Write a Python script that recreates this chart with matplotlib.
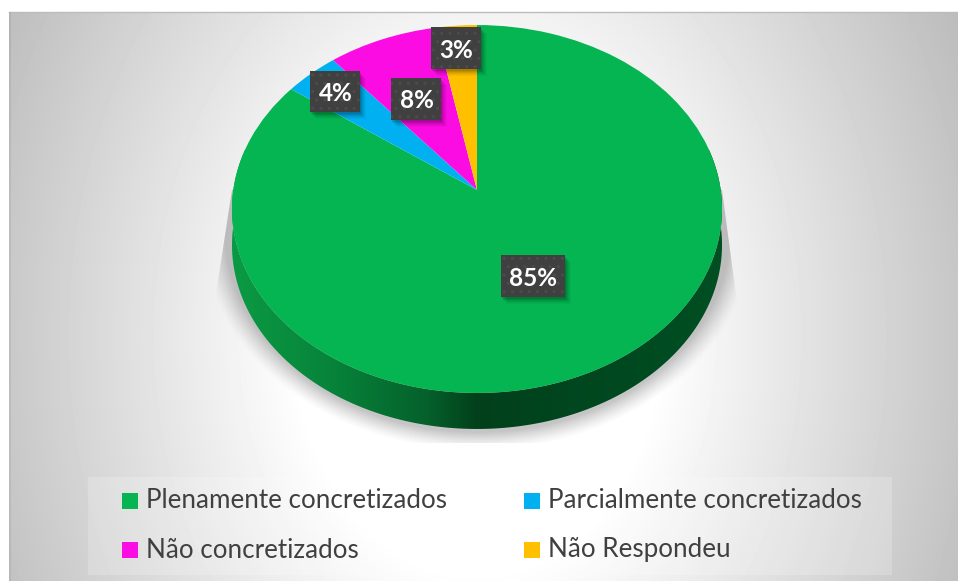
import numpy as np
import matplotlib
matplotlib.use('Agg')
import matplotlib.pyplot as plt
import matplotlib.transforms as mtransforms
from matplotlib.patches import Rectangle, Polygon
from matplotlib.colors import LinearSegmentedColormap

# Data
categories = ['Plenamente concretizados', 'Parcialmente concretizados', 'Não concretizados', 'Não Respondeu']
values = [85, 4, 8, 3]
labels = ['85%', '4%', '8%', '3%']
colors = ['#04b551', '#00b0f0', '#fb0ce3', '#ffc000']

W, H = 958, 581
CX, CY = 477, 190      # apex of the pie in pixels
A, B, K = 182.0, 243.7, 0.1033   # perspective of the top face
DEPTH = 36


class Perspective(mtransforms.Transform):
    """Unit circle to tilted disc, far side squeezed"""
    input_dims = 2
    output_dims = 2
    is_separable = False
    has_inverse = False

    def __init__(self, dy=0.0):
        super().__init__()
        self.dy = dy

    def transform_non_affine(self, xy):
        xy = np.asarray(xy, dtype=float)
        w = 1 + K * xy[:, 1]
        return np.column_stack([CX + B * xy[:, 0] / w, CY + self.dy - A * xy[:, 1] / w])


fig = plt.figure(figsize=(W / 100, H / 100), dpi=100, facecolor='white')
ax = fig.add_axes([0, 0, 1, 1])

# Pie first, it resets the limits of the axes
wedges, _ = ax.pie(values, colors=colors, startangle=90, counterclock=False,
                   wedgeprops={'linewidth': 0})
persp = Perspective()
for w in wedges:
    w.set_transform(persp + ax.transData)
    w.set_zorder(5)
ax.set_aspect('auto')
ax.set_xlim(0, W)
ax.set_ylim(H, 0)
ax.axis('off')

# Background gradient of the chart area
L, R, T, Bt = 9, 958, 12, 581
xx, yy = np.meshgrid(np.arange(L, R), np.arange(T, Bt))
r = np.sqrt(((xx - 477) / 480.0) ** 2 + ((yy - 335) / 632.0) ** 2)
grey = np.clip(255 - 90 * np.clip(r - 0.375, 0, None), 0, 255) / 255.0
ax.imshow(grey, extent=(L, R, Bt, T), cmap='gray', vmin=0, vmax=1, aspect='auto', zorder=0,
          interpolation='bilinear')
ax.set_xlim(0, W)
ax.set_ylim(H, 0)
ax.plot([L, R], [T, T], color='#bcbcbc', lw=1, zorder=1)
ax.add_patch(Rectangle((L, T), 2, Bt - T, color='black', alpha=0.06, lw=0, zorder=1))

# Shadow below the pie, cut off by a trapezoid like in the original
sx, sy = np.meshgrid(np.arange(200, 760), np.arange(150, 460))
e = np.sqrt(((sx - 477) / 252.0) ** 2 + ((sy - 232) / 200.0) ** 2)
alpha = np.clip((1.09 - e) / 0.09, 0, 1) ** 1.3 * 0.30
rgba = np.zeros(sx.shape + (4,))
rgba[..., :3] = 0.25
rgba[..., 3] = alpha
shadow = ax.imshow(rgba, extent=(200, 760, 460, 150), aspect='auto', zorder=2, interpolation='bilinear')
clip = Polygon([(232, 190), (215, 300), (215, 443), (738, 443), (738, 310), (722, 190)],
               transform=ax.transData, fill=False, lw=0)
ax.add_patch(clip)
shadow.set_clip_path(clip)
ax.set_xlim(0, W)
ax.set_ylim(H, 0)

# Side wall of the disc: horizontal gradient clipped to the rim
t2 = np.linspace(-np.pi - 0.35, 0.35, 240)
unit2 = np.column_stack([np.cos(t2), np.sin(t2)])
lower = Perspective(DEPTH).transform_non_affine(unit2)
upper = Perspective(0).transform_non_affine(unit2)[::-1]
wall_cmap = LinearSegmentedColormap.from_list('wall', [(0, '#0b9a44'), (0.2, '#07843a'), (0.4, '#05602b'),
                                                       (0.5, '#02401b'), (0.62, '#01441d'), (1, '#004f23')])
wall = ax.imshow(np.linspace(0, 1, 512)[None, :], extent=(232, 722, 460, 150), cmap=wall_cmap,
                 aspect='auto', zorder=3)
rim = Polygon(np.vstack([lower, upper]), transform=ax.transData, fill=False, lw=0)
ax.add_patch(rim)
wall.set_clip_path(rim)
ax.set_xlim(0, W)
ax.set_ylim(H, 0)

# Data labels
boxes = [(501, 255, 64, 42), (310, 71, 50, 41), (391, 78, 50, 42), (431, 27, 50, 42)]
for (x0, y0, bw, bh), lab in zip(boxes, labels):
    for off, al in [(7, 0.03), (6, 0.04), (5, 0.05), (4, 0.06), (3, 0.08), (2, 0.10)]:
        ax.add_patch(Rectangle((x0 + off - 1, y0 + off), bw, bh, color='black', alpha=al, lw=0, zorder=6))
    ax.add_patch(Rectangle((x0, y0), bw, bh, facecolor='#404040', edgecolor='#4c4c4c', hatch='..',
                           lw=0, zorder=7))
    ax.text(x0 + bw / 2 + 0.5, y0 + bh / 2 + 2, lab, color='white', fontsize=17.5, fontweight='bold',
            family='Lato', ha='center', va='center', zorder=8)

# Legend
ax.add_patch(Rectangle((88, 477), 804, 98, facecolor='white', alpha=0.2, lw=0, zorder=1))
marker_x = [122, 524, 122, 524]
row_y = [501, 501, 550, 550]
for name, c, mx, my in zip(categories, colors, marker_x, row_y):
    ax.add_patch(Rectangle((mx, my - 8), 16, 16, color=c, lw=0, zorder=4))
    ax.text(mx + 24, my, name, color='#404040', fontsize=18.7, family='Lato',
            ha='left', va='center', zorder=4)

fig.savefig('out.png', dpi=100)
